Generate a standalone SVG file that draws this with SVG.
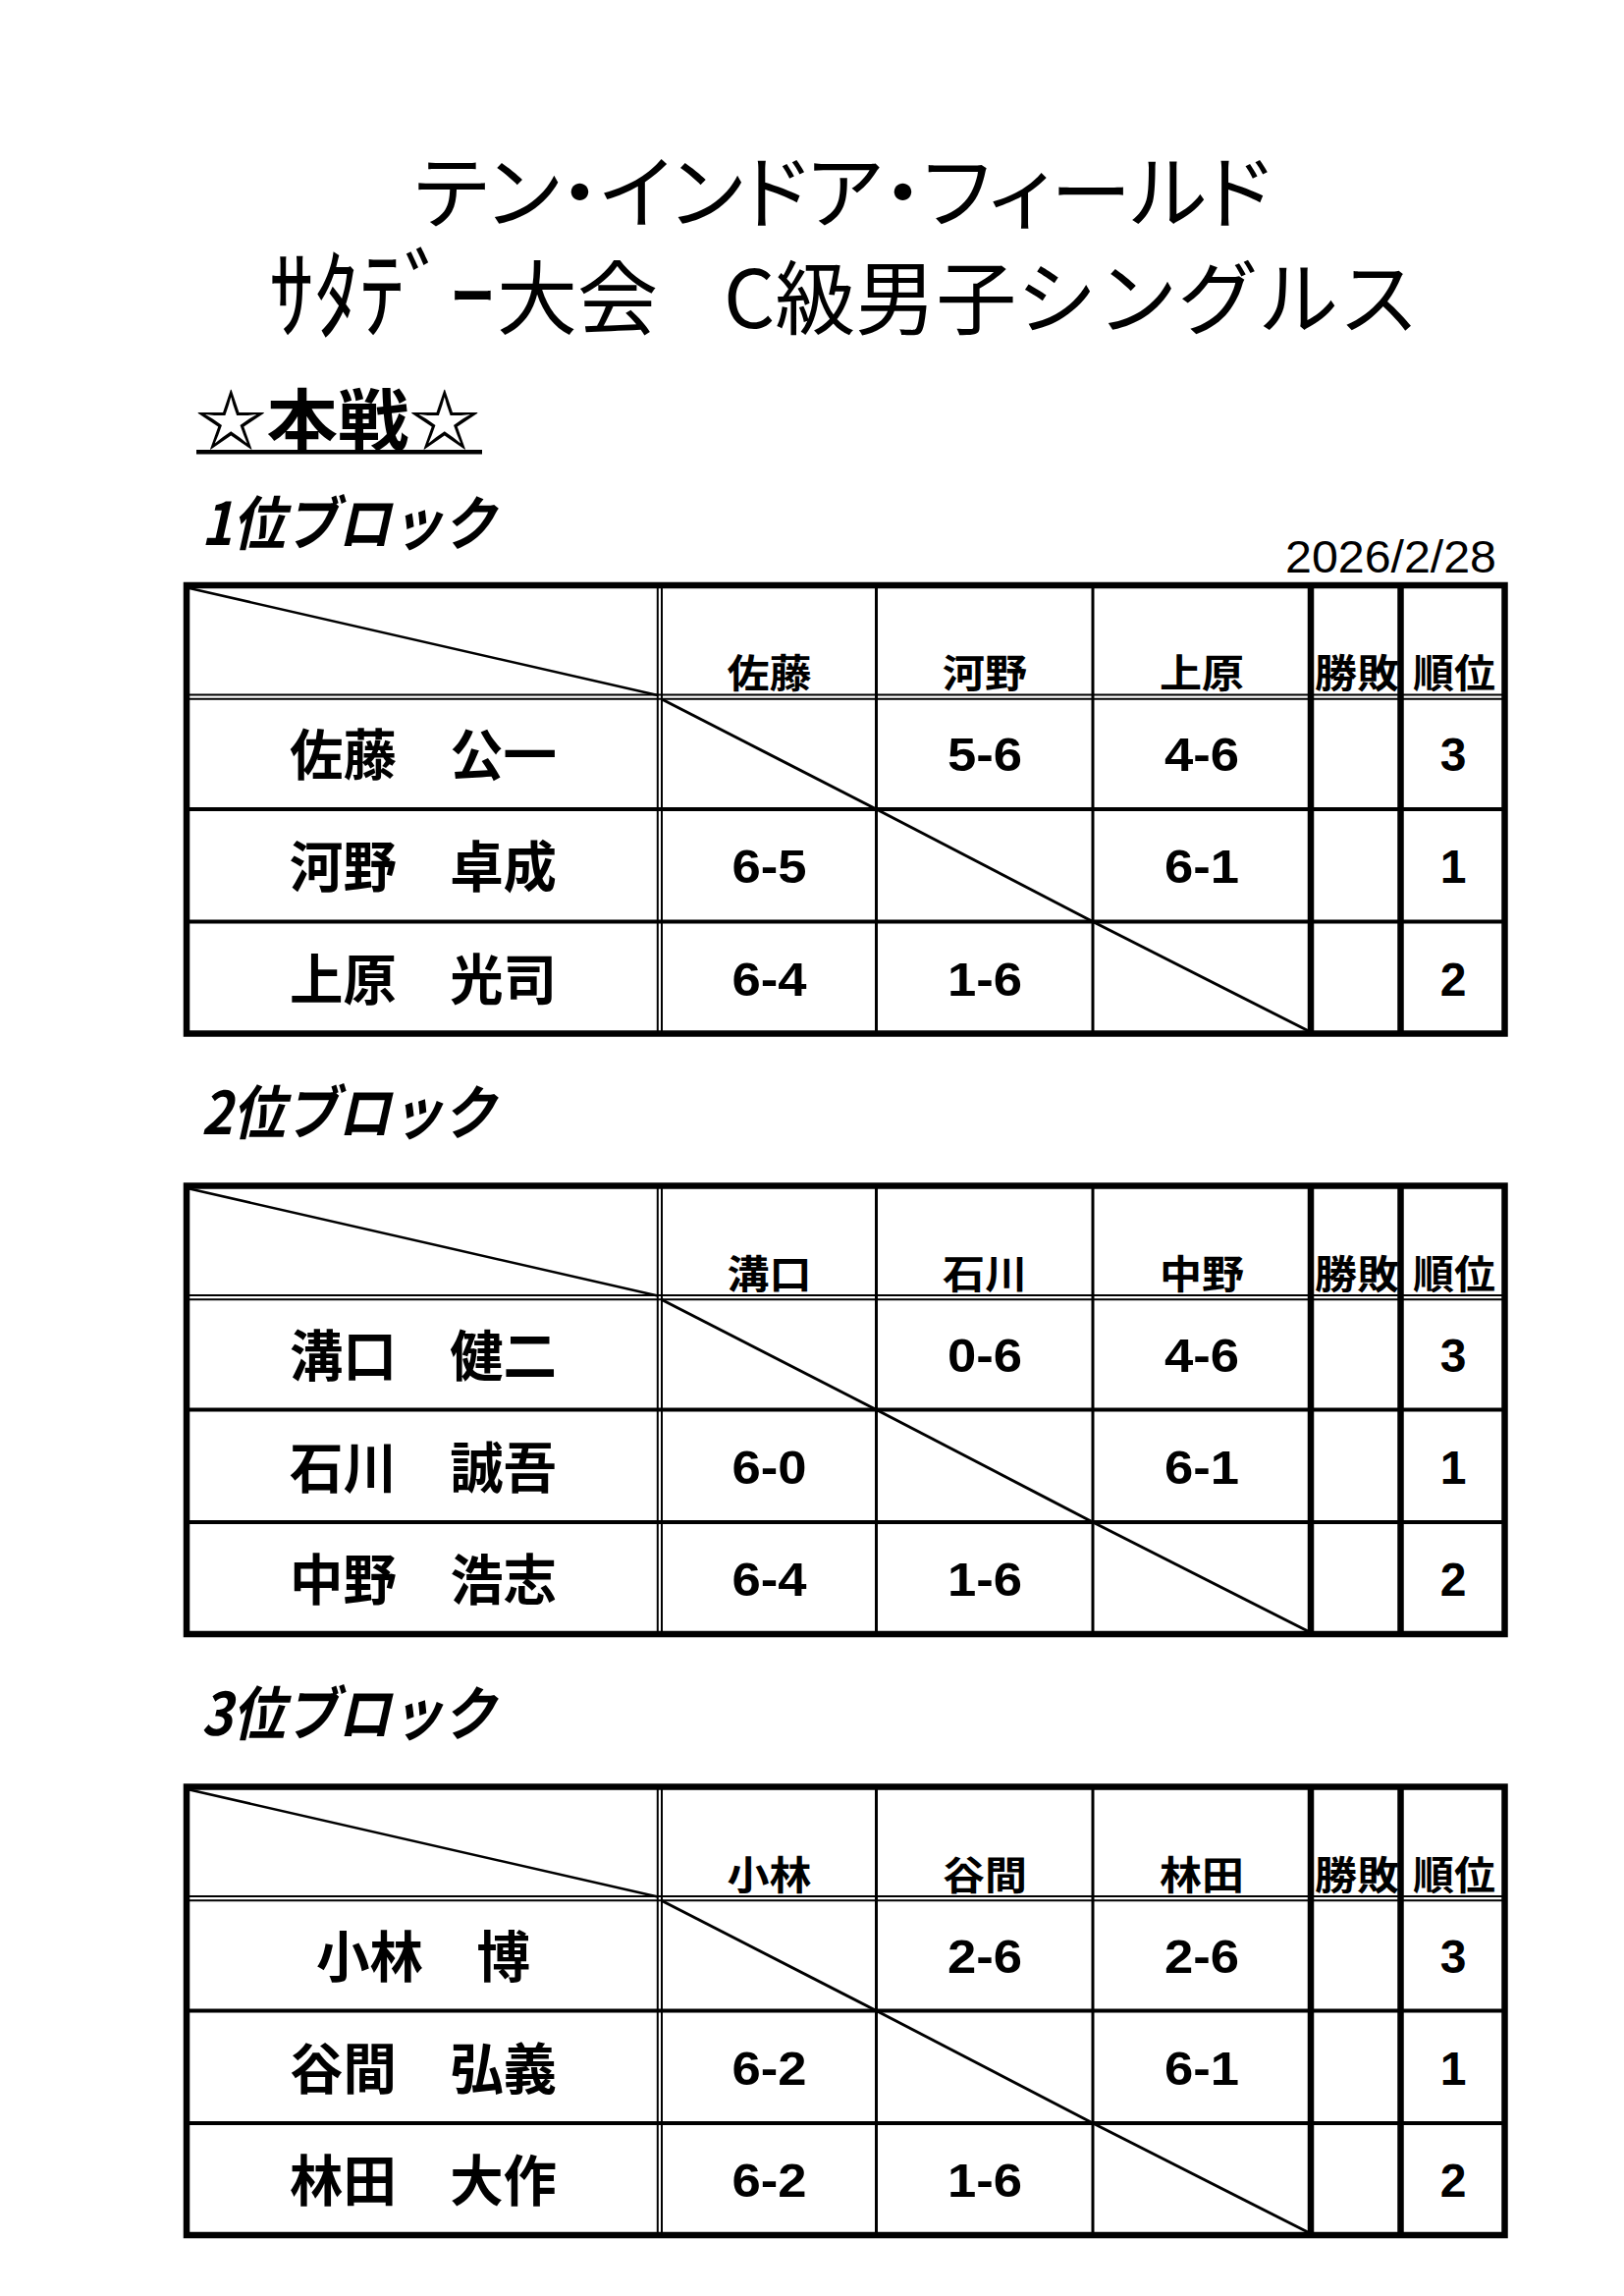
<svg xmlns="http://www.w3.org/2000/svg" width="1654" height="2338" viewBox="0 0 1654 2338">
<style>
text{fill:#000;font-family:"Noto Sans CJK JP","Noto Sans CJK SC",sans-serif}
.t1{font-size:82px;font-feature-settings:"palt"}
.t2{font-size:82px}
.hw{font-size:100px}
.hd{font-size:68px;font-weight:bold}
.blk{font-size:60px;font-weight:bold;font-style:italic}
.lbl{font-size:40px;font-weight:bold;text-anchor:middle}
.nm{font-size:56px;font-weight:bold;text-anchor:middle}
.sc{font-family:"Liberation Sans",Arial,sans-serif;font-size:48px;font-weight:bold;text-anchor:middle}
.date{font-family:"Liberation Sans",Arial,sans-serif;font-size:46px}
line{stroke:#000}
rect.ob{fill:none;stroke:#000;stroke-width:6.5}
rect.bg{fill:#fff;stroke:none}
rect.ul{fill:#000;stroke:none}
.tk{stroke-width:6.5}
.rw{stroke-width:4}
.cl{stroke-width:3}
.db{stroke-width:2}
.dh{stroke-width:2.5}
.dg{stroke-width:3}
</style>
<rect class="bg" x="0" y="0" width="1654" height="2338"/>
<g id="title">
<text class="t1" x="422" y="226" textLength="872" lengthAdjust="spacingAndGlyphs">テン・インドア・フィールド</text>
<text class="hw" x="274" y="337" textLength="230" lengthAdjust="spacingAndGlyphs">ｻﾀﾃﾞｰ</text>
<text class="t2" y="334"><tspan x="506">大会 </tspan><tspan x="737">C級男子シングルス</tspan></text>
</g>
<g id="honsen">
<text class="hd" x="199" y="453" textLength="290" lengthAdjust="spacingAndGlyphs">☆本戦☆</text>
<rect class="ul" x="200" y="458" width="291" height="4.5"/>
</g>
<g id="headings">
<text class="blk" x="205" y="555" textLength="300" lengthAdjust="spacingAndGlyphs">1位ブロック</text>
<text class="blk" x="205" y="1155" textLength="300" lengthAdjust="spacingAndGlyphs">2位ブロック</text>
<text class="blk" x="205" y="1767" textLength="300" lengthAdjust="spacingAndGlyphs">3位ブロック</text>
<text class="date" x="1309" y="583" textLength="215" lengthAdjust="spacingAndGlyphs">2026/2/28</text>
</g>
<defs>
<g id="grid">
<line class="db" x1="190" y1="707.5" x2="1532.5" y2="707.5"/>
<line class="db" x1="190" y1="711.7" x2="1532.5" y2="711.7"/>
<line class="rw" x1="190" y1="824" x2="1532.5" y2="824"/>
<line class="rw" x1="190" y1="938.5" x2="1532.5" y2="938.5"/>
<line class="db" x1="669.8" y1="596" x2="669.8" y2="1052.5"/>
<line class="db" x1="674" y1="596" x2="674" y2="1052.5"/>
<line class="cl" x1="892.5" y1="596" x2="892.5" y2="1052.5"/>
<line class="cl" x1="1113" y1="596" x2="1113" y2="1052.5"/>
<line class="tk" x1="1335" y1="596" x2="1335" y2="1052.5"/>
<line class="tk" x1="1426.5" y1="596" x2="1426.5" y2="1052.5"/>
<line class="dh" x1="193" y1="599" x2="670" y2="708"/>
<line class="dg" x1="674" y1="712" x2="892.5" y2="824"/>
<line class="dg" x1="892.5" y1="824" x2="1113" y2="938.5"/>
<line class="dg" x1="1113" y1="938.5" x2="1333" y2="1050"/>
<rect class="ob" x="190" y="596" width="1342.5" height="456.5"/>
</g>
</defs>
<g id="table1">
<use href="#grid"/>
<g id="t1-head">
<text class="lbl" x="783.5" y="700" textLength="86" lengthAdjust="spacingAndGlyphs">佐藤</text>
<text class="lbl" x="1003" y="700" textLength="86" lengthAdjust="spacingAndGlyphs">河野</text>
<text class="lbl" x="1224" y="700" textLength="86" lengthAdjust="spacingAndGlyphs">上原</text>
<text class="lbl" x="1382" y="700" textLength="86" lengthAdjust="spacingAndGlyphs">勝敗</text>
<text class="lbl" x="1481" y="700" textLength="84" lengthAdjust="spacingAndGlyphs">順位</text>
</g>
<g id="t1-r1">
<text class="nm" x="431" y="789" textLength="272" lengthAdjust="spacingAndGlyphs">佐藤　公一</text>
<text class="sc" x="1003" y="785" textLength="76" lengthAdjust="spacingAndGlyphs">5-6</text>
<text class="sc" x="1224" y="785" textLength="76" lengthAdjust="spacingAndGlyphs">4-6</text>
<text class="sc" x="1480" y="785">3</text>
</g>
<g id="t1-r2">
<text class="nm" x="431" y="903" textLength="272" lengthAdjust="spacingAndGlyphs">河野　卓成</text>
<text class="sc" x="783.5" y="899" textLength="76" lengthAdjust="spacingAndGlyphs">6-5</text>
<text class="sc" x="1224" y="899" textLength="76" lengthAdjust="spacingAndGlyphs">6-1</text>
<text class="sc" x="1480" y="899">1</text>
</g>
<g id="t1-r3">
<text class="nm" x="431" y="1017.5" textLength="272" lengthAdjust="spacingAndGlyphs">上原　光司</text>
<text class="sc" x="783.5" y="1013.5" textLength="76" lengthAdjust="spacingAndGlyphs">6-4</text>
<text class="sc" x="1003" y="1013.5" textLength="76" lengthAdjust="spacingAndGlyphs">1-6</text>
<text class="sc" x="1480" y="1013.5">2</text>
</g>
</g>
<g id="table2" transform="translate(0,611.5)">
<use href="#grid"/>
<g id="t2-head">
<text class="lbl" x="783.5" y="700" textLength="86" lengthAdjust="spacingAndGlyphs">溝口</text>
<text class="lbl" x="1003" y="700" textLength="86" lengthAdjust="spacingAndGlyphs">石川</text>
<text class="lbl" x="1224" y="700" textLength="86" lengthAdjust="spacingAndGlyphs">中野</text>
<text class="lbl" x="1382" y="700" textLength="86" lengthAdjust="spacingAndGlyphs">勝敗</text>
<text class="lbl" x="1481" y="700" textLength="84" lengthAdjust="spacingAndGlyphs">順位</text>
</g>
<g id="t2-r1">
<text class="nm" x="431" y="789" textLength="272" lengthAdjust="spacingAndGlyphs">溝口　健二</text>
<text class="sc" x="1003" y="785" textLength="76" lengthAdjust="spacingAndGlyphs">0-6</text>
<text class="sc" x="1224" y="785" textLength="76" lengthAdjust="spacingAndGlyphs">4-6</text>
<text class="sc" x="1480" y="785">3</text>
</g>
<g id="t2-r2">
<text class="nm" x="431" y="903" textLength="272" lengthAdjust="spacingAndGlyphs">石川　誠吾</text>
<text class="sc" x="783.5" y="899" textLength="76" lengthAdjust="spacingAndGlyphs">6-0</text>
<text class="sc" x="1224" y="899" textLength="76" lengthAdjust="spacingAndGlyphs">6-1</text>
<text class="sc" x="1480" y="899">1</text>
</g>
<g id="t2-r3">
<text class="nm" x="431" y="1017.5" textLength="272" lengthAdjust="spacingAndGlyphs">中野　浩志</text>
<text class="sc" x="783.5" y="1013.5" textLength="76" lengthAdjust="spacingAndGlyphs">6-4</text>
<text class="sc" x="1003" y="1013.5" textLength="76" lengthAdjust="spacingAndGlyphs">1-6</text>
<text class="sc" x="1480" y="1013.5">2</text>
</g>
</g>
<g id="table3" transform="translate(0,1223.5)">
<use href="#grid"/>
<g id="t3-head">
<text class="lbl" x="783.5" y="700" textLength="86" lengthAdjust="spacingAndGlyphs">小林</text>
<text class="lbl" x="1003" y="700" textLength="86" lengthAdjust="spacingAndGlyphs">谷間</text>
<text class="lbl" x="1224" y="700" textLength="86" lengthAdjust="spacingAndGlyphs">林田</text>
<text class="lbl" x="1382" y="700" textLength="86" lengthAdjust="spacingAndGlyphs">勝敗</text>
<text class="lbl" x="1481" y="700" textLength="84" lengthAdjust="spacingAndGlyphs">順位</text>
</g>
<g id="t3-r1">
<text class="nm" x="431" y="789" textLength="218" lengthAdjust="spacingAndGlyphs">小林　博</text>
<text class="sc" x="1003" y="785" textLength="76" lengthAdjust="spacingAndGlyphs">2-6</text>
<text class="sc" x="1224" y="785" textLength="76" lengthAdjust="spacingAndGlyphs">2-6</text>
<text class="sc" x="1480" y="785">3</text>
</g>
<g id="t3-r2">
<text class="nm" x="431" y="903" textLength="272" lengthAdjust="spacingAndGlyphs">谷間　弘義</text>
<text class="sc" x="783.5" y="899" textLength="76" lengthAdjust="spacingAndGlyphs">6-2</text>
<text class="sc" x="1224" y="899" textLength="76" lengthAdjust="spacingAndGlyphs">6-1</text>
<text class="sc" x="1480" y="899">1</text>
</g>
<g id="t3-r3">
<text class="nm" x="431" y="1017.5" textLength="272" lengthAdjust="spacingAndGlyphs">林田　大作</text>
<text class="sc" x="783.5" y="1013.5" textLength="76" lengthAdjust="spacingAndGlyphs">6-2</text>
<text class="sc" x="1003" y="1013.5" textLength="76" lengthAdjust="spacingAndGlyphs">1-6</text>
<text class="sc" x="1480" y="1013.5">2</text>
</g>
</g>
</svg>
